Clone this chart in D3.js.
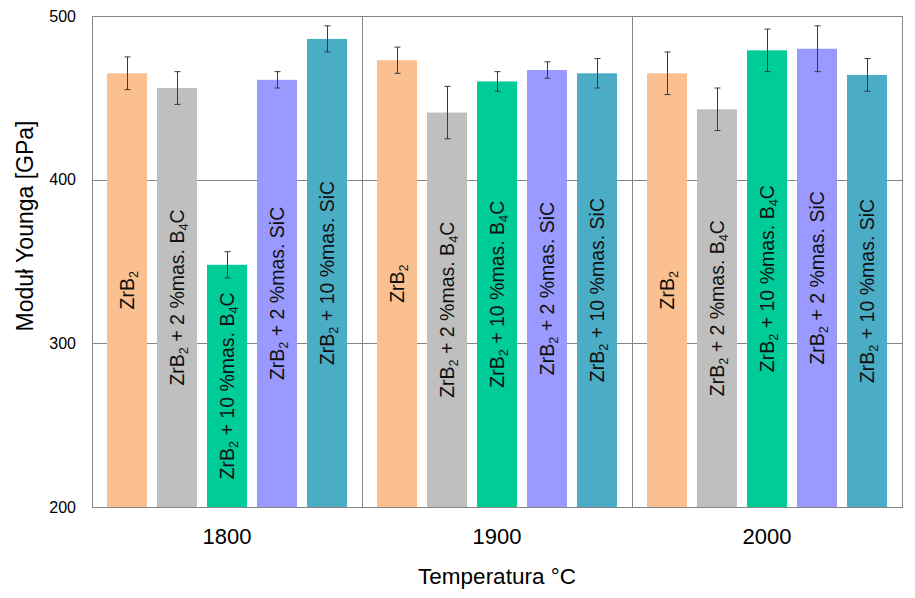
<!DOCTYPE html>
<html>
<head>
<meta charset="utf-8">
<script src="https://cdn.jsdelivr.net/npm/d3@7"></script>
<style>
    body { margin: 0; background: #fff; }
    text { font-family: "Liberation Sans", Arial, sans-serif; }
</style>
</head>
<body>
<div id="chart"></div>
<script>
// temperatures on the x axis, one group each
const temps = ['1800', '1900', '2000'];
// materials inside each group (digits after a letter become subscripts)
const materials = [
    'ZrB2',
    'ZrB2 + 2 %mas. B4C',
    'ZrB2 + 10 %mas. B4C',
    'ZrB2 + 2 %mas. SiC',
    'ZrB2 + 10 %mas. SiC'
];
const colors = ['#fac090', '#bfbfbf', '#00cc99', '#9999ff', '#4bacc6'];

// Young's modulus [GPa] and error, one array per temperature
const modulus1800 = [465, 456, 348, 461, 486];
const modulus1900 = [473, 441, 460, 467, 465];
const modulus2000 = [465, 443, 479, 480, 464];
const error1800 = [10, 10, 8, 5, 8];
const error1900 = [8, 16, 6, 5, 9];
const error2000 = [13, 13, 13, 14, 10];

const yTicks = [200, 300, 400, 500];

const modulus = [modulus1800, modulus1900, modulus2000];
const errors = [error1800, error1900, error2000];

const W = 915, H = 598;
const margin = {top: 16, right: 13, bottom: 91, left: 92};
const plotW = W - margin.left - margin.right;
const plotH = H - margin.top - margin.bottom;
const axisCol = '#868686';

const svg = d3.select('#chart').append('svg')
    .attr('width', W)
    .attr('height', H);

const g = svg.append('g')
    .attr('transform', `translate(${margin.left},${margin.top})`);

const x0 = d3.scaleBand().domain(temps).range([0, plotW]);
const x1 = d3.scaleBand().domain(d3.range(materials.length))
    .range([0, x0.bandwidth()])
    .paddingInner(0.2)
    .paddingOuter(0.3);
const y = d3.scaleLinear().domain([200, 500]).range([plotH, 0]);

// horizontal grid lines
g.append('g').selectAll('line')
    .data(yTicks.slice(1, -1))
    .enter().append('line')
    .attr('x1', 0).attr('x2', plotW)
    .attr('y1', d => Math.round(y(d)) + 0.5)
    .attr('y2', d => Math.round(y(d)) + 0.5)
    .style('stroke', axisCol);

const rows = [];
temps.forEach((t, ti) => {
    materials.forEach((m, mi) => {
        rows.push({t, mi, label: m, v: modulus[ti][mi], e: errors[ti][mi]});
    });
});

// bars
g.append('g').selectAll('rect')
    .data(rows)
    .enter().append('rect')
    .attr('x', d => x0(d.t) + x1(d.mi))
    .attr('y', d => y(d.v))
    .attr('width', x1.bandwidth())
    .attr('height', d => plotH - y(d.v))
    .style('fill', d => colors[d.mi]);

// error bars
const err = g.append('g').style('stroke', '#3a3a3a').style('stroke-width', 1);
rows.forEach(d => {
    const cx = Math.round(x0(d.t) + x1(d.mi) + x1.bandwidth() / 2) + 0.5;
    const yt = y(d.v + d.e), yb = y(d.v - d.e);
    err.append('line').attr('x1', cx).attr('x2', cx).attr('y1', yt).attr('y2', yb);
    err.append('line').attr('x1', cx - 3).attr('x2', cx + 3).attr('y1', yt).attr('y2', yt);
    err.append('line').attr('x1', cx - 3).attr('x2', cx + 3).attr('y1', yb).attr('y2', yb);
});

// rotated labels in the middle of each bar
const fs = 19.5;
const labels = g.append('g').selectAll('text')
    .data(rows)
    .enter().append('text')
    .attr('transform', d => {
        const cx = x0(d.t) + x1(d.mi) + x1.bandwidth() / 2 + fs * 0.36;
        const cy = (y(d.v) + plotH) / 2;
        return `translate(${cx},${cy}) rotate(-90)`;
    })
    .attr('text-anchor', 'middle')
    .style('font-size', fs + 'px')
    .style('fill', '#111');

labels.each(function(d) {
    const el = d3.select(this);
    const parts = d.label.split(/(?<=[A-Za-z])(\d)/);
    parts.forEach((p, i) => {
        if (p === '') return;
        if (i % 2 === 1) {
            el.append('tspan').text(p).attr('dy', fs * 0.22).style('font-size', (fs * 0.65) + 'px');
        } else {
            const ts = el.append('tspan').text(p);
            if (i > 0) ts.attr('dy', -fs * 0.22);
        }
    });
});

// group separators and frame
g.append('g').selectAll('line')
    .data(temps.slice(1))
    .enter().append('line')
    .attr('x1', d => Math.round(x0(d)) + 0.5)
    .attr('x2', d => Math.round(x0(d)) + 0.5)
    .attr('y1', 0).attr('y2', plotH)
    .style('stroke', axisCol);

g.append('rect')
    .attr('x', 0.5).attr('y', 0.5)
    .attr('width', plotW).attr('height', plotH)
    .style('fill', 'none')
    .style('stroke', axisCol);

// y axis labels
const yAxis = g.append('g')
    .call(d3.axisLeft(y).tickValues(yTicks).tickSize(0).tickPadding(16));
yAxis.select('.domain').remove();
yAxis.selectAll('text')
    .style('font-family', '"Liberation Sans", Arial, sans-serif')
    .style('font-size', '16px')
    .style('fill', '#000');

// x axis labels
const xAxis = g.append('g')
    .attr('transform', `translate(0,${plotH})`)
    .call(d3.axisBottom(x0).tickSize(0).tickPadding(21));
xAxis.select('.domain').remove();
xAxis.selectAll('text')
    .style('font-family', '"Liberation Sans", Arial, sans-serif')
    .style('font-size', '22px')
    .style('fill', '#000');

// axis titles
svg.append('text')
    .attr('x', margin.left + plotW / 2)
    .attr('y', 584)
    .attr('text-anchor', 'middle')
    .style('font-size', '22.5px')
    .text('Temperatura °C');

svg.append('text')
    .attr('transform', 'translate(33,226) rotate(-90)')
    .attr('text-anchor', 'middle')
    .style('font-size', '23px')
    .text('Moduł Younga [GPa]');
</script>
</body>
</html>
